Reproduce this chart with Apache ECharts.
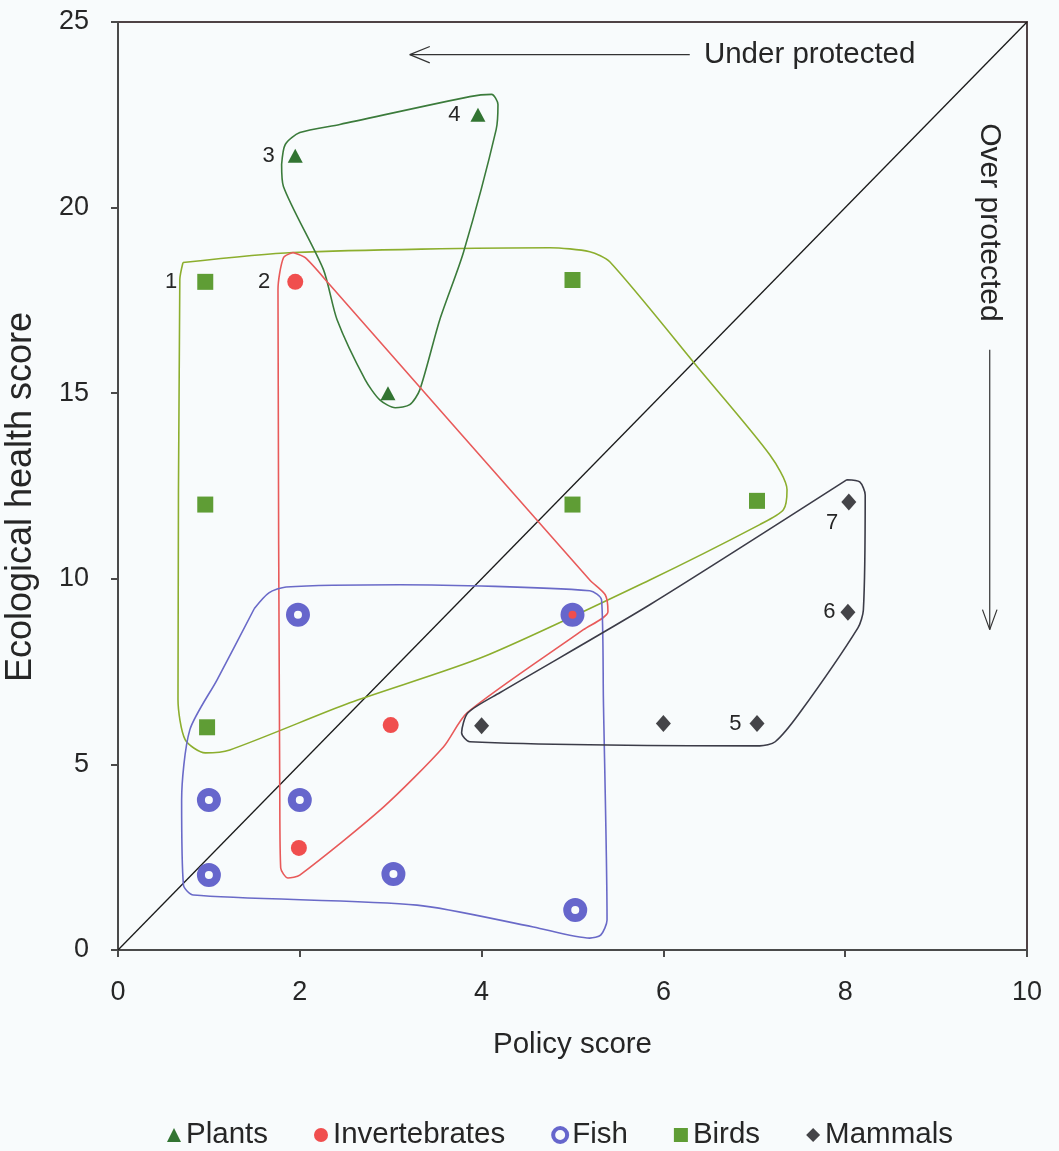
<!DOCTYPE html>
<html><head><meta charset="utf-8">
<script src="https://cdn.jsdelivr.net/npm/echarts@6/dist/echarts.min.js"></script>
<style>html,body{margin:0;padding:0;background:#f8fbfc}#c{width:1059px;height:1151px}</style>
</head><body><div id="c"></div>
<script>
// ---- data ----
const plants = [[1.95,21.4],[2.97,15.0],[3.96,22.5]];
const plantLabels = ['3','','4'];
const invertebrates = [[1.95,18.0],[3.0,6.06],[1.99,2.75],[5.0,9.05]];
const invertebrateLabels = ['2','','',''];
const fish = [[1,4.04],[1,2.02],[1.98,9.03],[2.0,4.04],[3.03,2.05],[5.0,9.03],[5.03,1.08]];
const birds = [[0.96,18.0],[0.96,12.0],[0.98,6.0],[5.0,18.05],[5.0,12.0],[7.03,12.1]];
const birdLabels = ['1','','','','',''];
const mammals = [[4.0,6.04],[6.0,6.1],[7.03,6.1],[8.03,9.1],[8.04,12.07]];
const mammalLabels = ['','','5','6','7'];
const diagonal = [[0,0],[10,25]];
const seriesNames = ['Plants','Invertebrates','Fish','Birds','Mammals'];

// hand-drawn outlines (data units)
const plantHull = [[1.80,21.16],[1.84,21.70],[2.00,22.02],[2.44,22.24],[3.87,22.99],[4.11,23.05],[4.18,22.78],[4.16,22.10],[3.80,18.79],[3.54,16.98],[3.32,15.09],[3.21,14.69],[3.05,14.61],[2.88,14.82],[2.72,15.36],[2.41,16.98],[2.26,18.33],[1.82,20.57],[1.80,21.16]];
const birdHull = [[0.715,18.52],[1.925,18.79],[4.75,18.92],[5.19,18.81],[5.41,18.54],[6.40,15.63],[7.17,13.34],[7.36,12.40],[7.32,11.86],[7.06,11.46],[5.85,9.97],[4.02,7.90],[2.55,6.66],[1.23,5.39],[0.96,5.31],[0.74,5.66],[0.66,6.74],[0.68,18.06],[0.715,18.52]];
const invertHull = [[1.925,18.79],[2.06,18.65],[2.33,17.92],[5.19,9.97],[5.36,9.57],[5.39,9.11],[5.12,8.63],[3.84,6.39],[3.58,5.47],[2.92,3.85],[2.00,2.02],[1.87,1.94],[1.79,2.21],[1.78,4.04],[1.76,17.79],[1.82,18.65],[1.925,18.79]];
const fishHull = [[1.50,9.20],[1.66,9.62],[1.85,9.78],[3.10,9.84],[5.19,9.68],[5.32,9.43],[5.34,6.74],[5.38,0.81],[5.31,0.40],[5.19,0.32],[4.57,0.62],[3.29,1.21],[0.83,1.48],[0.72,1.75],[0.70,4.04],[0.79,5.93],[1.09,7.28],[1.50,9.20]];
const mammalHull = [[8.02,12.67],[8.16,12.61],[8.22,12.26],[8.20,9.16],[8.14,8.68],[7.50,6.39],[7.23,5.61],[7.06,5.50],[3.87,5.61],[3.78,5.85],[3.85,6.39],[4.20,6.93],[5.85,9.30],[8.02,12.67]];

const underShaft = [[6.29,24.12],[3.21,24.12]];
const underHead = [[3.43,24.34],[3.21,24.12],[3.43,23.90]];
const overShaft = [[9.59,16.17],[9.59,8.63]];
const overHead = [[9.51,9.17],[9.59,8.63],[9.67,9.17]];
const underText = {pos:[6.44,24.12], text:'Under protected'};
const overText = {pos:[9.59,19.6], text:'Over protected'};

// ---- chart ----
const FONT = "'Liberation Sans', Arial, sans-serif";
const TXT = '#262626';
const labelStyle = {color:TXT, fontSize:22, fontFamily:FONT};
const labelOffsets = {'1':{position:'left',distance:20},'2':{position:'left',distance:17},'3':{position:'left',distance:13},'4':{position:'left',distance:10},'5':{position:'left',distance:8},'6':{position:'left',distance:5},'7':{position:'left',distance:3,offset:[0,21]}};
function withLabels(pts, labels){
  return pts.map((p,i)=>{
    const l = labels && labels[i];
    if(!l) return {value:p};
    return {value:p, label:Object.assign({show:true, formatter:l}, labelStyle, labelOffsets[l])};
  });
}
function outline(data, color){
  return {type:'line', data:data, showSymbol:false, symbol:'none', smooth:0.25, silent:true,
    lineStyle:{color:color, width:1.6}, z:1, legendHoverLink:false};
}
function plainLine(data){
  return {type:'line', data:data, showSymbol:false, symbol:'none', lineStyle:{color:'#333', width:1.2}, silent:true};
}
const chart = echarts.init(document.getElementById('c'), null, {renderer:'canvas'});
chart.setOption({
  backgroundColor:'#f8fbfc',
  animation:false,
  grid:{left:118, right:32, top:22, bottom:201, containLabel:false, outerBoundsMode:'none',
    show:true, borderColor:'#4f4245', borderWidth:2, backgroundColor:'transparent'},
  xAxis:{type:'value', min:0, max:10, interval:2, name:'Policy score', nameLocation:'middle', nameGap:80,
    nameTextStyle:{fontSize:29.5, color:TXT, fontFamily:FONT},
    axisLine:{lineStyle:{color:'#4a4a4a', width:2}}, axisTick:{show:true, length:7, lineStyle:{color:'#4a4a4a', width:2}},
    axisLabel:{fontSize:27, color:TXT, margin:29, fontFamily:FONT}, splitLine:{show:false}},
  yAxis:{type:'value', min:0, max:25, interval:5, name:'Ecological health score', nameLocation:'middle', nameGap:79,
    nameTextStyle:{fontSize:36, color:TXT, fontFamily:FONT, padding:[0,22,0,0]},
    axisLine:{lineStyle:{color:'#4a4a4a', width:2}}, axisTick:{show:true, length:7, lineStyle:{color:'#4a4a4a', width:2}},
    axisLabel:{fontSize:27, color:TXT, margin:29, fontFamily:FONT}, splitLine:{show:false}},
  legend:{top:1115, left:162, itemGap:46, itemWidth:14, itemHeight:14,
    textStyle:{fontSize:29.5, color:TXT, fontFamily:FONT},
    data:[{name:'Plants'},{name:'Invertebrates'},{name:'Fish', itemStyle:{borderWidth:4}},{name:'Birds'},{name:'Mammals'}]},
  series:[
    {type:'line', name:'diag', data:diagonal, showSymbol:false, symbol:'none', lineStyle:{color:'#1a1a1a', width:1.3}, silent:true, z:1},
    outline(birdHull,'#8cae2e'),
    outline(plantHull,'#3b7b3b'),
    outline(invertHull,'#e85a5a'),
    outline(fishHull,'#6a6ac8'),
    outline(mammalHull,'#3c3c48'),
    plainLine(underShaft), plainLine(underHead), plainLine(overShaft), plainLine(overHead),
    {type:'scatter', data:[{value:underText.pos}], symbolSize:1, itemStyle:{color:'rgba(0,0,0,0)', opacity:1}, silent:true,
      label:{show:true, formatter:underText.text, position:'right', distance:0, fontSize:29.5, color:TXT, fontFamily:FONT}},
    {type:'scatter', data:[{value:overText.pos}], symbolSize:1, itemStyle:{color:'rgba(0,0,0,0)', opacity:1}, silent:true,
      label:{show:true, formatter:overText.text, position:'inside', rotate:-90, fontSize:30, color:TXT, fontFamily:FONT}},
    {type:'scatter', name:seriesNames[1], data:withLabels(invertebrates, invertebrateLabels), symbol:'circle', symbolSize:16,
      itemStyle:{color:'#f04e4e', opacity:1}, z:3},
    {type:'scatter', name:seriesNames[2], data:fish, symbol:'circle', symbolSize:16,
      itemStyle:{color:'rgba(255,255,255,0)', borderColor:'#6666cc', borderWidth:8, opacity:1}, z:4},
    {type:'scatter', name:seriesNames[0], data:withLabels(plants, plantLabels), symbol:'triangle', symbolSize:[15,14],
      itemStyle:{color:'#327432', opacity:1}, z:4},
    {type:'scatter', name:seriesNames[3], data:withLabels(birds, birdLabels), symbol:'rect', symbolSize:16,
      itemStyle:{color:'#5f9d35', opacity:1}, z:4},
    {type:'scatter', name:seriesNames[4], data:withLabels(mammals, mammalLabels), symbol:'diamond', symbolSize:[15,17],
      itemStyle:{color:'#444448', opacity:1}, z:4}
  ]
});
</script></body></html>
